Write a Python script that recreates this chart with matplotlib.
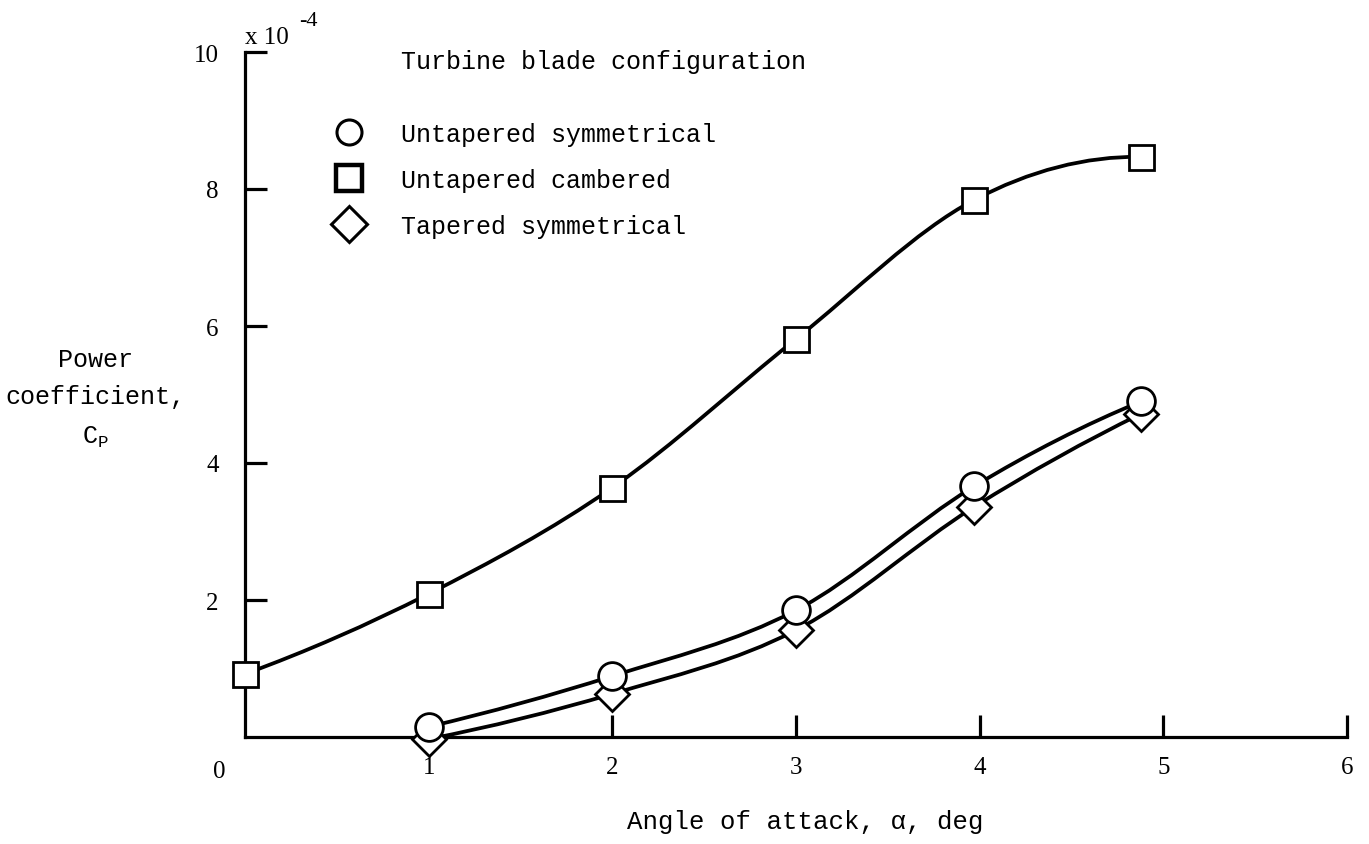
import numpy as np
import matplotlib
matplotlib.use("Agg")
import matplotlib.pyplot as plt
from matplotlib.path import Path
from matplotlib.patches import PathPatch
from matplotlib.lines import Line2D

plt.rcParams["font.family"] = ["Liberation Mono", "DejaVu Sans Mono"]

# ---- data (Cp in units of 1e-4) ----
alpha_sq = [0.0, 1.0, 2.0, 3.0, 3.97, 4.88]
cp_sq = [0.92, 2.09, 3.64, 5.81, 7.84, 8.47]

alpha_circ = [1.0, 2.0, 3.0, 3.97, 4.88]
cp_circ = [0.15, 0.89, 1.85, 3.66, 4.9]

alpha_dia = [1.0, 2.0, 3.0, 3.97, 4.88]
cp_dia = [-0.03, 0.63, 1.56, 3.36, 4.72]

labels = ["Untapered symmetrical", "Untapered cambered", "Tapered symmetrical"]
xticks = [1, 2, 3, 4, 5, 6]
yticks = [2, 4, 6, 8, 10]

W, H = 1369, 845


def faired(xs, ys):
    """Smooth faired curve through the points as cubic Bezier segments."""
    xs, ys = np.asarray(xs, float), np.asarray(ys, float)
    d = np.diff(ys) / np.diff(xs)
    m = np.empty_like(ys)
    m[1:-1] = (ys[2:] - ys[:-2]) / (xs[2:] - xs[:-2])
    m[0] = 2 * d[0] - m[1]
    m[-1] = 2 * d[-1] - m[-2]
    verts = [(xs[0], ys[0])]
    codes = [Path.MOVETO]
    for i in range(len(xs) - 1):
        h = (xs[i + 1] - xs[i]) / 3
        verts += [(xs[i] + h, ys[i] + m[i] * h),
                  (xs[i + 1] - h, ys[i + 1] - m[i + 1] * h),
                  (xs[i + 1], ys[i + 1])]
        codes += [Path.CURVE4] * 3
    return Path(verts, codes)


fig = plt.figure(figsize=(W / 100, H / 100), dpi=100)
fig.patch.set_facecolor("white")
ax = fig.add_axes([245 / W, (H - 738) / H, (1347 - 245) / W, (738 - 53) / H])

for xs, ys in [(alpha_sq, cp_sq), (alpha_circ, cp_circ), (alpha_dia, cp_dia)]:
    ax.add_patch(PathPatch(faired(xs, ys), fill=False, lw=2.7,
                           edgecolor="black", zorder=2, clip_on=False))

mk = dict(ls="none", mfc="white", mec="black", mew=2.0, clip_on=False, zorder=4)
ax.plot(alpha_sq, cp_sq, marker="s", ms=18, **mk)
ax.plot(alpha_dia, cp_dia, marker="D", ms=17, **mk)
ax.plot(alpha_circ, cp_circ, marker="o", ms=20, **mk)

ax.set_xlim(0, 6)
ax.set_ylim(0, 10)
for s in ["top", "right"]:
    ax.spines[s].set_visible(False)
for s in ["left", "bottom"]:
    ax.spines[s].set_linewidth(2.3)

ax.set_xticks(xticks)
ax.set_yticks(yticks)
ax.tick_params(direction="in", length=16, width=2.3, labelsize=18,
               labelfontfamily="Liberation Serif")
ax.tick_params(axis="x", pad=14)
ax.tick_params(axis="y", pad=19)
ax.annotate("0", xy=(0, 0), xytext=(-26, -34), textcoords="offset pixels",
            ha="center", va="center", fontsize=18, family="Liberation Serif")

# exponent note above the y axis
fig.text(245 / W, 1 - 38 / H, "x 10", fontsize=18,
         family="Liberation Serif", ha="left", va="center")
fig.text(299 / W, 1 - 21 / H, "-4", fontsize=16,
         family="Liberation Serif", ha="left", va="center")

# legend
fig.text(401 / W, 1 - 62 / H, "Turbine blade configuration", fontsize=18,
         ha="left", va="center")
handles = [
    Line2D([], [], marker="o", ls="none", ms=18, mfc="white", mec="black", mew=2.2),
    Line2D([], [], marker="s", ls="none", ms=19, mfc="white", mec="black", mew=3.2),
    Line2D([], [], marker="D", ls="none", ms=18, mfc="white", mec="black", mew=2.2),
]
ax.legend(handles, labels, loc="upper left",
          bbox_to_anchor=(324 / W, 1 - 123 / H), bbox_transform=fig.transFigure,
          frameon=False, fontsize=18, handlelength=2.0, handletextpad=1.08,
          borderpad=0, borderaxespad=0, labelspacing=0.88)

# axis labels
fig.text(95 / W, 1 - 360 / H, "Power", fontsize=18, ha="center", va="center")
fig.text(95 / W, 1 - 397 / H, "coefficient,", fontsize=18, ha="center", va="center")
fig.text(95 / W, 1 - 437 / H, r"$\mathregular{C_P}$", fontsize=18,
         ha="center", va="center")
fig.text(805 / W, 1 - 822 / H, "Angle of attack, \u03b1, deg", fontsize=18.5,
         ha="center", va="center")

fig.savefig("out.png", dpi=100)
